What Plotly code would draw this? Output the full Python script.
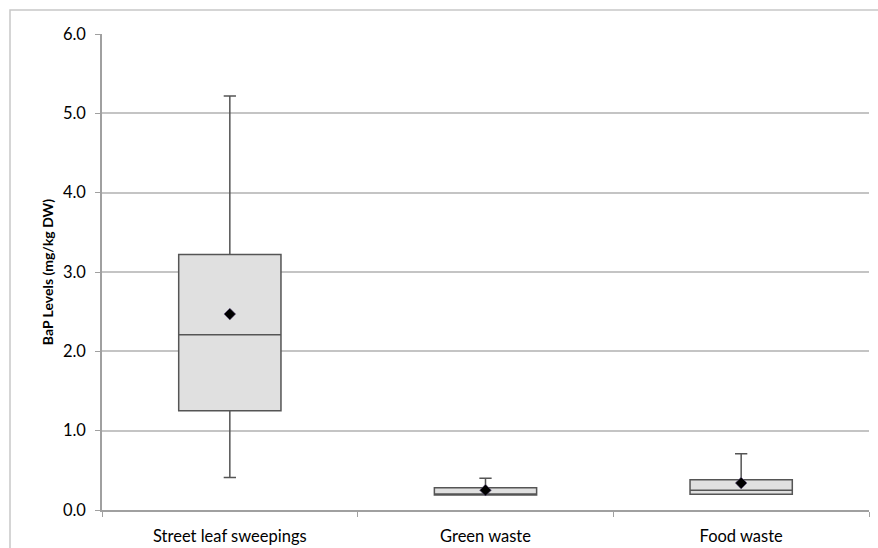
import plotly.graph_objects as go

categories = ["Street leaf sweepings", "Green waste", "Food waste"]
q1 = [1.25, 0.19, 0.20]
median = [2.21, 0.19, 0.25]
q3 = [3.22, 0.28, 0.38]
lower = [0.41, 0.19, 0.20]
upper = [5.22, 0.40, 0.71]
means = [2.47, 0.25, 0.34]
y_ticks = [0, 1, 2, 3, 4, 5, 6]
y_ticktext = ["0.0", "1.0", "2.0", "3.0", "4.0", "5.0", "6.0"]

FONT = "Lato, 'Open Sans', sans-serif"

fig = go.Figure()
fig.add_trace(go.Box(
    x=categories, q1=q1, median=median, q3=q3,
    lowerfence=lower, upperfence=upper,
    fillcolor="#e0e0e0",
    line=dict(color="#555555", width=1.5),
    whiskerwidth=0.12, width=0.4,
    boxpoints=False, showlegend=False, hoverinfo="skip",
))
fig.add_trace(go.Scatter(
    x=categories, y=means, mode="markers",
    marker=dict(symbol="diamond", size=9, color="black",
                line=dict(color="#6a5a8a", width=0.6)),
    showlegend=False, hoverinfo="skip",
))

fig.add_shape(type="rect", xref="paper", yref="paper",
              x0=(10 - 102) / 767, x1=1.2, y0=-0.3, y1=(510 - 10) / 476,
              line=dict(color="#c8c8c8", width=1.5), fillcolor="rgba(0,0,0,0)",
              layer="below")

fig.update_layout(
    width=878, height=548,
    margin=dict(l=102, r=9, t=34, b=38),
    paper_bgcolor="white", plot_bgcolor="white",
    font=dict(family=FONT, size=16.5, color="black"),
    xaxis=dict(
        type="category", showline=True, linecolor="#a0a0a0", linewidth=1.5,
        ticks="outside", tickson="boundaries", ticklen=5, tickcolor="#a0a0a0",
        showgrid=False, tickfont=dict(size=16.5, family=FONT),
        ticklabelstandoff=10, automargin=False,
        range=[-0.5, 2.5],
    ),
    yaxis=dict(
        range=[0, 6], tickvals=y_ticks, ticktext=y_ticktext,
        showline=True, linecolor="#a0a0a0", linewidth=1.5,
        ticks="outside", ticklen=5, tickcolor="#a0a0a0",
        showgrid=True, gridcolor="#c4c4c4", gridwidth=1.5,
        zeroline=False, ticklabelstandoff=6, automargin=False,
        tickfont=dict(size=16.5, family=FONT),
        title=dict(text="<b>BaP Levels (mg/kg DW)</b>", font=dict(size=14, family=FONT), standoff=6),
    ),
)

fig.write_html("out.html", config={"displayModeBar": False},
               post_script="document.body.style.margin='0';document.body.style.padding='0';")
